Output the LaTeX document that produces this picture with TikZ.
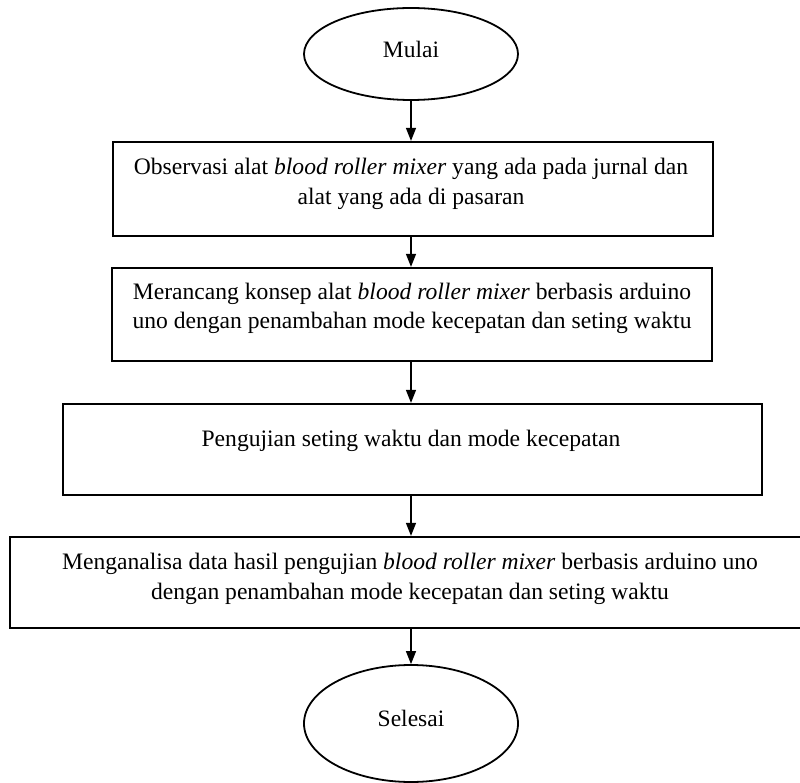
\documentclass[tikz,border=0pt]{standalone}
\usepackage{fontspec}
\setmainfont{Liberation Serif}
\usetikzlibrary{shapes.geometric,arrows.meta}
\tikzset{
  oval/.style={draw, ellipse, line width=1.8pt, inner sep=0pt, font=\fontsize{23.5}{28}\selectfont},
  stepbox/.style={draw, rectangle, line width=2.2pt, inner sep=0pt},
  txt/.style={align=center, inner sep=0pt, font=\fontsize{23.6}{29.5}\selectfont},
  flow/.style={line width=1.3pt, -{Triangle[width=10pt,length=13pt]}}
}
\begin{document}
\begin{tikzpicture}[x=1pt,y=-1pt]
\useasboundingbox (0,0) rectangle (800,783);
\clip (0,0) rectangle (800,783);
\node[oval, minimum width=214pt, minimum height=92pt, text depth=10pt] (start) at (411,54) {Mulai};
\node[stepbox, minimum width=600pt, minimum height=94pt] (b1) at (413,189) {};
\node[txt] (t1) at (411,184) {Observasi alat \textit{blood roller mixer} yang ada pada jurnal dan\\alat yang ada di pasaran};
\node[stepbox, minimum width=600pt, minimum height=93pt] (b2) at (412,314.5) {};
\node[txt] (t2) at (412,308.5) {Merancang konsep alat \textit{blood roller mixer} berbasis arduino\\uno dengan penambahan mode kecepatan dan seting waktu};
\node[stepbox, minimum width=699pt, minimum height=91pt] (b3) at (412.5,449.5) {};
\node[txt] (t3) at (411,441) {Pengujian seting waktu dan mode kecepatan};
\node[stepbox, minimum width=800pt, minimum height=91pt] (b4) at (410,582.5) {};
\node[txt] (t4) at (410,579) {Menganalisa data hasil pengujian \textit{blood roller mixer} berbasis arduino uno\\dengan penambahan mode kecepatan dan seting waktu};
\node[oval, minimum width=214pt, minimum height=117pt, text depth=10pt] (stop) at (411,723.5) {Selesai};
\draw[flow] (start.south) -- (start.south |- b1.north);
\draw[flow] (start.south |- b1.south) -- (start.south |- b2.north);
\draw[flow] (start.south |- b2.south) -- (start.south |- b3.north);
\draw[flow] (start.south |- b3.south) -- (start.south |- b4.north);
\draw[flow] (start.south |- b4.south) -- (stop.north);
\end{tikzpicture}
\end{document}
